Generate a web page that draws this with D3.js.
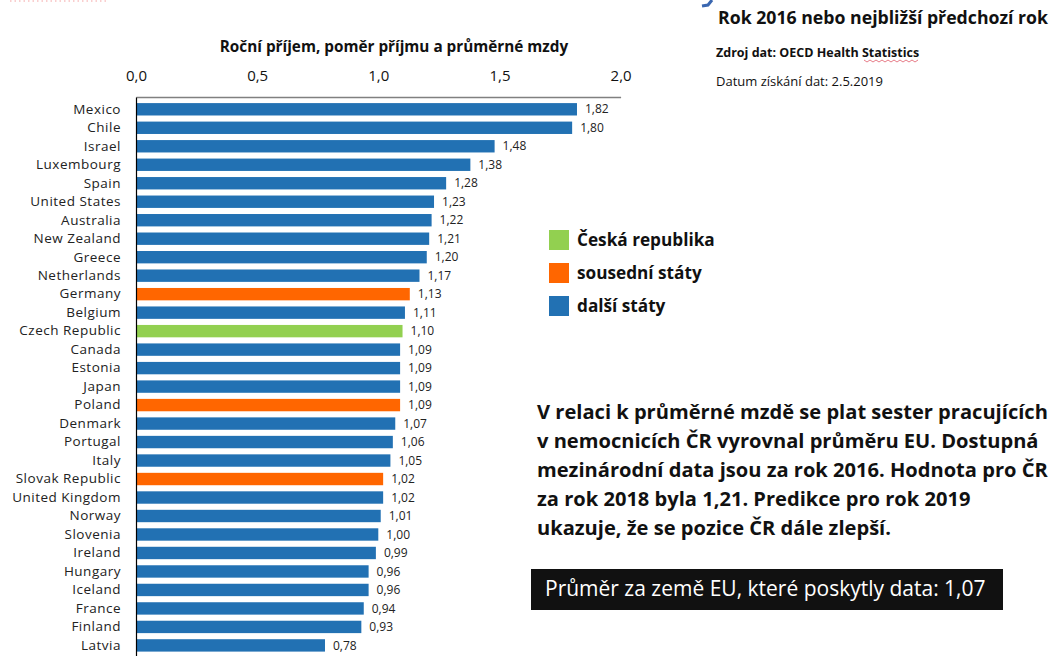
<!DOCTYPE html>
<html>
<head>
<meta charset="utf-8">
<script src="https://cdn.jsdelivr.net/npm/d3@7"></script>
<style>
  body { margin: 0; background: #fff; }
  svg { display: block; font-family: "Open Sans", Lato, sans-serif; }
</style>
</head>
<body>
<svg id="chart" width="1057" height="656"></svg>
<script>
var countries = ["Mexico", "Chile", "Israel", "Luxembourg", "Spain", "United States", "Australia",
    "New Zealand", "Greece", "Netherlands", "Germany", "Belgium", "Czech Republic", "Canada",
    "Estonia", "Japan", "Poland", "Denmark", "Portugal", "Italy", "Slovak Republic",
    "United Kingdom", "Norway", "Slovenia", "Ireland", "Hungary", "Iceland", "France",
    "Finland", "Latvia"];
var values = [1.82, 1.80, 1.48, 1.38, 1.28, 1.23, 1.22, 1.21, 1.20, 1.17, 1.13, 1.11, 1.10, 1.09,
    1.09, 1.09, 1.09, 1.07, 1.06, 1.05, 1.02, 1.02, 1.01, 1.00, 0.99, 0.96, 0.96, 0.94,
    0.93, 0.78];
var neighbours = ["Germany", "Poland", "Slovak Republic"];
var czech = "Czech Republic";
var xTicks = [0, 0.5, 1.0, 1.5, 2.0];
var legendLabels = ["Česká republika", "sousední státy", "další státy"];
var noteLines = [
    "V relaci k průměrné mzdě se plat sester pracujících",
    "v nemocnicích ČR vyrovnal průměru EU. Dostupná",
    "mezinárodní data jsou za rok 2016. Hodnota pro ČR",
    "za rok 2018 byla 1,21. Predikce pro rok 2019",
    "ukazuje, že se pozice ČR dále zlepší."
];
var euAverage = 1.07;

var colors = { cz: "#92d050", nb: "#ff6600", other: "#2271b3" };

var cz = d3.formatLocale({ decimal: ",", thousands: " ", grouping: [3], currency: ["", " Kč"] });
var f1 = cz.format(".1f"), f2 = cz.format(".2f");

var svg = d3.select("#chart");
var m = { left: 136, top: 97 };
var w = 484.6;

var x = d3.scaleLinear().domain([0, 2]).range([0, w]);
var y = d3.scaleBand().domain(countries).range([0, countries.length * 18.69]).padding(0.33);

var g = svg.append("g").attr("transform", "translate(" + m.left + "," + m.top + ")");

// bars
var data = countries.map(function (c, i) { return { name: c, value: values[i] }; });
function colorOf(d) {
    if (d.name === czech) return colors.cz;
    if (neighbours.indexOf(d.name) >= 0) return colors.nb;
    return colors.other;
}
g.selectAll("rect.bar").data(data).enter().append("rect")
    .attr("class", "bar")
    .attr("x", 0)
    .attr("y", function (d) { return y(d.name); })
    .attr("width", function (d) { return x(d.value); })
    .attr("height", y.bandwidth())
    .attr("fill", colorOf);

g.selectAll("text.val").data(data).enter().append("text")
    .attr("class", "val")
    .attr("x", function (d) { return x(d.value) + 8; })
    .attr("y", function (d) { return y(d.name) + y.bandwidth() / 2; })
    .attr("dy", "0.35em")
    .attr("font-size", 12)
    .attr("fill", "#222")
    .text(function (d) { return f2(d.value); });

// top axis
var gX = g.append("g").call(d3.axisTop(x).tickValues(xTicks).tickFormat(f1).tickSize(0).tickPadding(16));
gX.select(".domain").attr("stroke", "#808080").attr("stroke-width", 1.5);
gX.selectAll("text").attr("font-size", 15).attr("fill", "#111").attr("font-family", "'Open Sans', sans-serif");

// left axis
var gY = g.append("g").call(d3.axisLeft(y).tickSize(0).tickPadding(15));
gY.select(".domain").attr("stroke", "#000").attr("stroke-width", 1.2);
gY.selectAll("text").attr("font-size", 13.5).attr("letter-spacing", 0.5)
    .attr("fill", "#222").attr("font-family", "'Open Sans', sans-serif");

// axis title
svg.append("text").attr("x", 394).attr("y", 52).attr("text-anchor", "middle")
    .attr("font-size", 15.3).attr("font-weight", "bold").attr("fill", "#111")
    .text("Roční příjem, poměr příjmu a průměrné mzdy");

// cut-off slide fragments
svg.append("line").attr("x1", 10).attr("x2", 107).attr("y1", 1).attr("y2", 1)
    .attr("stroke", "#f8c0c0").attr("stroke-width", 1.5).attr("stroke-dasharray", "1.5,3");
svg.append("path").attr("d", "M712,0 L708,5 L702,6")
    .attr("fill", "none").attr("stroke", "#3a67b0").attr("stroke-width", 3);

// top right notes
svg.append("text").attr("x", 718).attr("y", 24).attr("font-size", 17.7).attr("font-weight", "bold")
    .attr("fill", "#111").text("Rok 2016 nebo nejbližší předchozí rok");
svg.append("text").attr("x", 716).attr("y", 57).attr("font-size", 12.5).attr("font-weight", "bold")
    .attr("fill", "#111").text("Zdroj dat: OECD Health Statistics");
svg.append("path")
    .attr("d", d3.range(0, 57, 3).map(function (i, k) { return (k ? "L" : "M") + (864 + i) + "," + (60 + (k % 2) * 2); }).join(""))
    .attr("fill", "none").attr("stroke", "#e05a6a").attr("stroke-width", 0.8);
svg.append("text").attr("x", 716).attr("y", 86).attr("font-size", 13)
    .attr("fill", "#111").text("Datum získání dat: 2.5.2019");

// legend
var legColors = [colors.cz, colors.nb, colors.other];
var leg = svg.append("g").attr("transform", "translate(549,230)");
legendLabels.forEach(function (l, i) {
    leg.append("rect").attr("x", 0).attr("y", i * 33).attr("width", 20).attr("height", 20).attr("fill", legColors[i]);
    leg.append("text").attr("x", 28).attr("y", i * 33 + 10).attr("dy", "0.35em")
        .attr("font-size", 17.2).attr("font-weight", "bold").attr("fill", "#111").text(l);
});

// note paragraph
noteLines.forEach(function (t, i) {
    svg.append("text").attr("x", 537).attr("y", 412 + i * 29).attr("dy", "0.35em")
        .attr("font-size", 20.1).attr("font-weight", "bold").attr("fill", "#111").text(t);
});

// EU average box
svg.append("rect").attr("x", 531).attr("y", 569).attr("width", 472).attr("height", 41).attr("fill", "#111");
svg.append("text").attr("x", 545).attr("y", 589).attr("dy", "0.35em")
    .attr("font-size", 21).attr("fill", "#fff")
    .text("Průměr za země EU, které poskytly data: " + f2(euAverage));
</script>
</body>
</html>
